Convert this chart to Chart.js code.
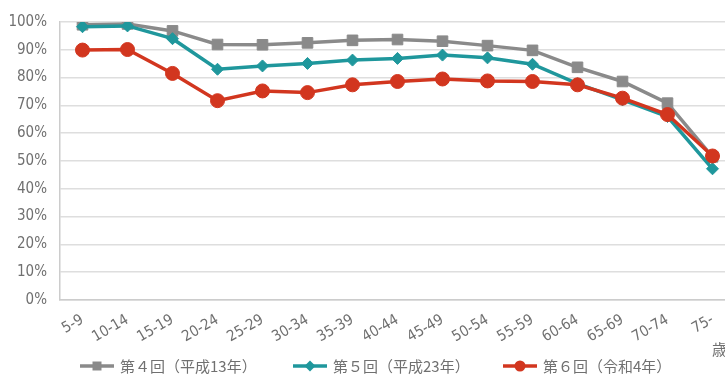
<!DOCTYPE html>
<html lang="ja">
<head>
<meta charset="utf-8">
<title>年齢階級別の割合</title>
<script src="https://cdn.jsdelivr.net/npm/chart.js@4.4.1/dist/chart.umd.min.js"></script>
<style>
  html, body { margin: 0; padding: 0; background: #ffffff; overflow: hidden; }
  #wrap { position: relative; width: 745px; height: 376px; }
</style>
</head>
<body>
<div id="wrap"><canvas id="chart"></canvas></div>
<script>
// Age groups (years)
const ageGroups = ['5-9', '10-14', '15-19', '20-24', '25-29', '30-34', '35-39', '40-44',
  '45-49', '50-54', '55-59', '60-64', '65-69', '70-74', '75-'];

// Percentages by survey round
const round4 = [99.0, 99.3, 96.8, 91.9, 91.8, 92.5, 93.4, 93.7, 93.1, 91.5, 89.8, 83.7, 78.6, 70.8, 51.5];
const round5 = [98.3, 98.6, 94.0, 83.0, 84.2, 85.1, 86.3, 86.9, 88.1, 87.1, 84.8, 77.8, 72.0, 66.0, 47.2];
const round6 = [89.9, 90.1, 81.5, 71.7, 75.2, 74.6, 77.4, 78.6, 79.5, 78.8, 78.6, 77.4, 72.6, 66.7, 51.8];

const seriesNames = ['第４回（平成13年）', '第５回（平成23年）', '第６回（令和4年）'];
const yTicks = [0, 10, 20, 30, 40, 50, 60, 70, 80, 90, 100];
const unitLabel = '歳';

const GRAY = '#8a8a8a';
const TEAL = '#1f979c';
const RED = '#d2361f';
const TEXT = '#707070';
const FONT = "'Liberation Sans Narrow', 'DejaVu Sans Condensed', 'Noto Sans CJK JP', sans-serif";
const JP_FONT = "'Noto Sans CJK JP', sans-serif";

const styles = [
  { color: GRAY, point: 'rect', radius: 7.5, order: 3 },
  { color: TEAL, point: 'rectRot', radius: 6, order: 2 },
  { color: RED, point: 'circle', radius: 7, order: 1 }
];
const seriesData = [round4, round5, round6];

// Legend (line + marker + name) and the unit label under the last category
const extrasPlugin = {
  id: 'extras',
  afterDraw(chart) {
    const ctx = chart.ctx;
    ctx.save();
    // unit label
    ctx.fillStyle = TEXT;
    ctx.font = '15px ' + JP_FONT;
    ctx.textAlign = 'left';
    ctx.textBaseline = 'middle';
    ctx.fillText(unitLabel, 712, 349);

    // legend
    const starts = [80, 293, 503];
    const markerSize = [4.5, 5.5, 5.5];
    const y = 366;
    chart.data.datasets.forEach((ds, i) => {
      const x0 = starts[i];
      const lineLen = 34;
      const cx = x0 + lineLen / 2;
      const r = markerSize[i];
      ctx.strokeStyle = ds.borderColor;
      ctx.lineWidth = 3.5;
      ctx.beginPath();
      ctx.moveTo(x0, y);
      ctx.lineTo(x0 + lineLen, y);
      ctx.stroke();
      ctx.fillStyle = ds.backgroundColor;
      ctx.beginPath();
      if (ds.pointStyle === 'rect') {
        ctx.rect(cx - r, y - r, 2 * r, 2 * r);
      } else if (ds.pointStyle === 'rectRot') {
        ctx.moveTo(cx, y - r); ctx.lineTo(cx + r, y); ctx.lineTo(cx, y + r); ctx.lineTo(cx - r, y); ctx.closePath();
      } else {
        ctx.arc(cx, y, r, 0, Math.PI * 2);
      }
      ctx.fill();
      ctx.fillStyle = TEXT;
      ctx.font = '15px ' + JP_FONT;
      ctx.textBaseline = 'middle';
      ctx.fillText(ds.label, x0 + lineLen + 6, y);
    });
    ctx.restore();
  }
};

new Chart(document.getElementById('chart'), {
  type: 'line',
  data: {
    labels: ageGroups,
    datasets: seriesData.map((vals, i) => ({
      label: seriesNames[i],
      data: vals,
      borderColor: styles[i].color,
      backgroundColor: styles[i].color,
      borderWidth: 3.5,
      pointStyle: styles[i].point,
      pointRadius: styles[i].radius,
      pointBorderWidth: 1,
      pointHoverRadius: styles[i].radius,
      tension: 0,
      order: styles[i].order
    }))
  },
  options: {
    responsive: true,
    maintainAspectRatio: false,
    animation: false,
    layout: { padding: { top: 20, right: 10, bottom: 0, left: 0 } },
    plugins: {
      legend: { display: false },
      tooltip: { enabled: false }
    },
    scales: {
      x: {
        offset: true,
        grid: { display: false, drawTicks: false },
        border: { display: true, color: '#cccccc', width: 1.5 },
        ticks: {
          autoSkip: false,
          minRotation: 30,
          maxRotation: 30,
          padding: 11,
          color: TEXT,
          font: { family: FONT, size: 15 }
        },
        afterFit(scale) { scale.height = 76; }
      },
      y: {
        min: 0,
        max: 100,
        afterBuildTicks(scale) { scale.ticks = yTicks.map(v => ({ value: v })); },
        grid: { color: '#dedede', lineWidth: 1.5, drawTicks: false },
        border: { display: true, color: '#cccccc', width: 1.5 },
        ticks: {
          padding: 13,
          color: TEXT,
          font: { family: FONT, size: 15 },
          callback: v => v + '%'
        },
        afterFit(scale) { scale.width = 60; }
      }
    }
  },
  plugins: [extrasPlugin]
});
</script>
</body>
</html>
